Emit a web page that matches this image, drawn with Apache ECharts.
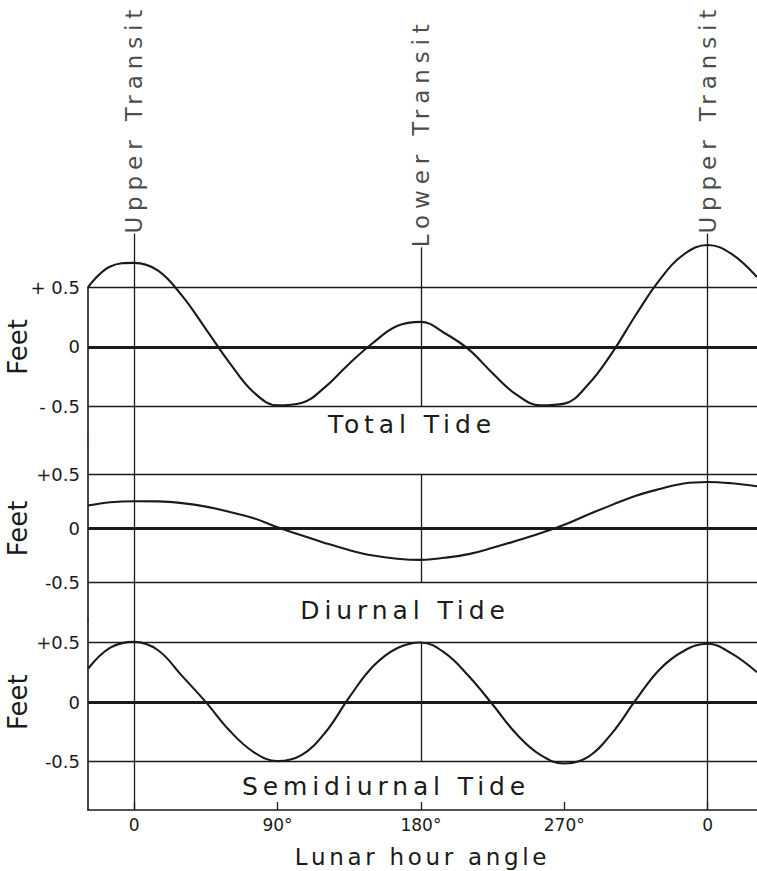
<!DOCTYPE html>
<html>
<head>
<meta charset="utf-8">
<script src="https://cdn.jsdelivr.net/npm/echarts@6/dist/echarts.min.js"></script>
<style>
html,body{margin:0;padding:0;background:#ffffff;}
#chart{width:757px;height:871px;}
text[style*="spA"]{letter-spacing:4.9px;}
text[style*="spB"]{letter-spacing:3.7px;}
text[style*="spC"]{letter-spacing:5.9px;}
</style>
</head>
<body>
<div id="chart"></div>
<script>
// ---------------- DATA ----------------
const tickAngles = [0, 90, 180, 270, 360];
const tickLabels = ['0', '90°', '180°', '270°', '0'];

const feetTicks = [-0.5, 0, 0.5];
const feetLabelsTotal = ['- 0.5', '0', '+ 0.5'];
const feetLabelsOther = ['-0.5', '0', '+0.5'];

const transitAngles = [0, 180, 360];
const transitNames = ['Upper Transit', 'Lower Transit', 'Upper Transit'];

const panelTitles = ['Total Tide', 'Diurnal Tide', 'Semidiurnal Tide'];

// lunar hour angle (degrees) at which the curves were read
const angle = [-29, -15, 0, 15, 30, 45, 60, 75, 90, 105, 120, 135, 150, 165, 180, 195, 210, 225, 240, 255, 270, 285, 300, 315, 330, 345, 360, 375, 391];

const totalFeet   = [0.50, 0.675, 0.705, 0.64, 0.43, 0.15, -0.135, -0.38, -0.49, -0.47, -0.335, -0.14, 0.035, 0.175, 0.21, 0.115, -0.02, -0.22, -0.40, -0.49, -0.475, -0.315, -0.05, 0.27, 0.565, 0.775, 0.855, 0.78, 0.585];
const diurnalFeet = [0.21, 0.24, 0.25, 0.248, 0.232, 0.20, 0.15, 0.094, 0.01, -0.064, -0.136, -0.20, -0.25, -0.279, -0.29, -0.27, -0.237, -0.179, -0.114, -0.044, 0.033, 0.127, 0.216, 0.30, 0.362, 0.413, 0.427, 0.415, 0.387];
const semiFeet    = [0.28, 0.457, 0.505, 0.435, 0.22, 0.0, -0.241, -0.419, -0.495, -0.445, -0.255, 0.04, 0.30, 0.452, 0.50, 0.413, 0.219, -0.02, -0.268, -0.443, -0.515, -0.46, -0.26, 0.02, 0.276, 0.429, 0.49, 0.408, 0.25];

// ---------------- LAYOUT ----------------
const INK = '#1a1a1a';
const FONT = 'DejaVu Sans';
const X_MIN = -29, X_MAX = 391;
const LEFT = 88;
const PANELS = [
  {top: 287.3, bottom: 440, plus: 287.3, minus: 406.6},
  {top: 440,   bottom: 620, plus: 474,   minus: 582.7},
  {top: 620,   bottom: 810, plus: 642.5, minus: 761.7}
];
const UPPER_LABEL_FT = 0.95;   // where the Upper Transit labels begin (panel-1 units)
const LOWER_LABEL_FT = 0.835;  // where the Lower Transit label begins

function rangeOf(p) {
  const s = p.minus - p.plus, z = (p.plus + p.minus) / 2;
  return {min: -(p.bottom - z) / s, max: (z - p.top) / s, zero: z, scale: s};
}
const R = PANELS.map(rangeOf);
const headerMax = 0.5 + PANELS[0].top / R[0].scale;

const grids = [{left: LEFT, right: 0, top: 0, height: PANELS[0].top}]
  .concat(PANELS.map(p => ({left: LEFT, right: 0, top: p.top, height: p.bottom - p.top})));

const xAxes = grids.map((g, i) => {
  const base = {gridIndex: i, type: 'value', min: X_MIN, max: X_MAX, splitLine: {show: false}};
  if (i < 3) return Object.assign(base, {show: false});
  return Object.assign(base, {
    axisLine: {show: true, onZero: false, lineStyle: {color: INK, width: 1.6}},
    axisTick: {show: true, inside: true, length: 8, customValues: tickAngles, lineStyle: {color: INK, width: 1.3}},
    axisLabel: {show: true, customValues: tickAngles, margin: 6, color: INK, fontSize: 17, fontFamily: FONT,
      formatter: v => tickLabels[tickAngles.indexOf(v)]},
    name: 'Lunar hour angle', nameLocation: 'middle', nameGap: 35,
    nameTextStyle: {color: INK, fontSize: 23, fontFamily: FONT + ', spB'}
  });
});

const yAxes = [{gridIndex: 0, type: 'value', min: 0.5, max: headerMax, show: false}].concat(
  R.map((r, i) => ({
    gridIndex: i + 1, type: 'value', min: r.min, max: r.max,
    splitLine: {show: false},
    axisLine: {show: true, onZero: false, lineStyle: {color: INK, width: 1.6}},
    axisTick: {show: false},
    axisLabel: {show: true, customValues: feetTicks, margin: 8, color: INK, fontSize: 18, fontFamily: FONT,
      formatter: v => (i === 0 ? feetLabelsTotal : feetLabelsOther)[feetTicks.indexOf(v)]}
  }))
);

const thin = {color: INK, width: 1.3, type: 'solid'};
function gridLines() {
  return [
    {yAxis: 0.5},
    {yAxis: 0, lineStyle: {color: INK, width: 2.8, type: 'solid'}},
    {yAxis: -0.5},
    {xAxis: transitAngles[0]},
    {xAxis: transitAngles[2]},
    [{coord: [transitAngles[1], 0.5]}, {coord: [transitAngles[1], -0.5]}]
  ];
}
function tideSeries(name, idx, ft) {
  return {
    name, type: 'line', xAxisIndex: idx, yAxisIndex: idx,
    data: angle.map((a, k) => [a, ft[k]]),
    smooth: 0.4, showSymbol: false, clip: false, silent: true, z: 3,
    lineStyle: {color: INK, width: 2.1},
    markLine: {silent: true, symbol: 'none', animation: false, label: {show: false},
      emphasis: {disabled: true}, lineStyle: thin, data: gridLines()}
  };
}

const series = [
  {
    type: 'scatter', xAxisIndex: 0, yAxisIndex: 0, silent: true, clip: false,
    symbolSize: 1, itemStyle: {color: 'rgba(0,0,0,0)'},
    data: transitAngles.map((a, k) => ({name: transitNames[k], value: [a, k === 1 ? LOWER_LABEL_FT : UPPER_LABEL_FT]})),
    label: {show: true, formatter: '{b}', position: 'inside', rotate: 90, align: 'left', verticalAlign: 'middle',
      color: INK, fontSize: 23, fontFamily: FONT + ', spC'},
    markLine: {silent: true, symbol: 'none', animation: false, label: {show: false}, lineStyle: thin,
      emphasis: {disabled: true},
      data: transitAngles.map((a, k) => [{coord: [a, k === 1 ? LOWER_LABEL_FT : UPPER_LABEL_FT]}, {coord: [a, 0.5]}])}
  },
  tideSeries('Total Tide', 1, totalFeet),
  tideSeries('Diurnal Tide', 2, diurnalFeet),
  tideSeries('Semidiurnal Tide', 3, semiFeet)
];

const titlePos = [[412, 424], [405, 610], [386, 786]];
const graphics = [];
R.forEach((r, i) => {
  graphics.push({type: 'text', x: 18, y: r.zero, rotation: Math.PI / 2, silent: true,
    style: {text: 'Feet', fill: INK, fontSize: 26, fontFamily: FONT, align: 'center', verticalAlign: 'middle'}});
  graphics.push({type: 'text', x: titlePos[i][0], y: titlePos[i][1], silent: true,
    style: {text: panelTitles[i], fill: INK, fontSize: 25, fontFamily: FONT + ', spA', align: 'center', verticalAlign: 'middle'}});
});

const chart = echarts.init(document.getElementById('chart'), null, {renderer: 'svg'});
chart.setOption({
  animation: false,
  backgroundColor: '#ffffff',
  grid: grids,
  xAxis: xAxes,
  yAxis: yAxes,
  series: series,
  graphic: graphics
});
</script>
</body>
</html>
